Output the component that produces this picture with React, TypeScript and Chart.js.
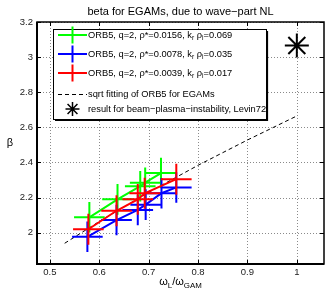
import React, { useEffect, useRef } from 'react';
import { Chart, registerables } from 'chart.js';

Chart.register(...registerables);

const FONT = '"Liberation Sans", Arial, Helvetica, sans-serif';

const xTicks = [0.5, 0.6, 0.7, 0.8, 0.9, 1];
const xTickLabels = ['0.5', '0.6', '0.7', '0.8', '0.9', '1'];
const yTicks = [2, 2.2, 2.4, 2.6, 2.8, 3, 3.2];
const yTickLabels = ['2', '2.2', '2.4', '2.6', '2.8', '3', '3.2'];

// ORB5, rho*=0.0156 (green)
const greenX = [0.58, 0.637, 0.683, 0.693, 0.725];
const greenY = [2.088, 2.19, 2.265, 2.285, 2.34];
const greenXErr = [0.031, 0.031, 0.031, 0.031, 0.031];
const greenYErr = [0.087, 0.087, 0.087, 0.087, 0.087];

// ORB5, rho*=0.0078 (blue)
const blueX = [0.576, 0.635, 0.678, 0.694, 0.726, 0.756];
const blueY = [1.977, 2.072, 2.13, 2.16, 2.225, 2.258];
const blueXErr = [0.031, 0.031, 0.031, 0.031, 0.031, 0.031];
const blueYErr = [0.087, 0.087, 0.087, 0.087, 0.087, 0.087];

// ORB5, rho*=0.0039 (red)
const redX = [0.578, 0.635, 0.678, 0.692, 0.756];
const redY = [2.02, 2.125, 2.19, 2.225, 2.305];
const redXErr = [0.031, 0.031, 0.031, 0.031, 0.031];
const redYErr = [0.088, 0.088, 0.088, 0.088, 0.088];

// sqrt fitting of ORB5 for EGAMs
const fitX = [0.53, 0.6, 0.7, 0.8, 0.9, 1.0];
const fitY = [1.94, 2.064, 2.23, 2.384, 2.528, 2.665];

// beam-plasma-instability result, Levin72
const levinX = [1.0];
const levinY = [3.066];

type Seg = [string, boolean];
const titleText: Seg[] = [['beta for EGAMs, due to wave\u2212part NL', false]];
const xLabel: Seg[] = [['\u03c9', false], ['L', true], ['/\u03c9', false], ['GAM', true]];
const yLabel = '\u03b2';
const legendGreen: Seg[] = [['ORB5, q=2, \u03c1*=0.0156, k', false], ['r', true], [' \u03c1', false], ['i', true], ['=0.069', false]];
const legendBlue: Seg[] = [['ORB5, q=2, \u03c1*=0.0078, k', false], ['r', true], [' \u03c1', false], ['i', true], ['=0.035', false]];
const legendRed: Seg[] = [['ORB5, q=2, \u03c1*=0.0039, k', false], ['r', true], [' \u03c1', false], ['i', true], ['=0.017', false]];
const legendFit: Seg[] = [['sqrt fitting of ORB5 for EGAMs', false]];
const legendLevin: Seg[] = [['result for beam\u2212plasma\u2212instability, Levin72', false]];

const GREEN = '#00ff00';
const BLUE = '#0000ff';
const RED = '#ff0000';

function pts(xs: number[], ys: number[]) {
  return xs.map((x, i) => ({ x, y: ys[i] }));
}

function drawRich(ctx: CanvasRenderingContext2D, segs: Seg[], x: number, y: number, size: number, align: 'left' | 'center') {
  let total = 0;
  for (const [t, sub] of segs) {
    ctx.font = `${sub ? size * 0.72 : size}px ${FONT}`;
    total += ctx.measureText(t).width;
  }
  let cx = align === 'center' ? x - total / 2 : x;
  ctx.textAlign = 'left';
  ctx.textBaseline = 'middle';
  for (const [t, sub] of segs) {
    ctx.font = `${sub ? size * 0.72 : size}px ${FONT}`;
    ctx.fillText(t, cx, sub ? y + size * 0.32 : y);
    cx += ctx.measureText(t).width;
  }
}

function drawStar(ctx: CanvasRenderingContext2D, x: number, y: number, r: number) {
  ctx.beginPath();
  for (let k = 0; k < 4; k++) {
    const a = (k * Math.PI) / 4;
    ctx.moveTo(x - r * Math.cos(a), y - r * Math.sin(a));
    ctx.lineTo(x + r * Math.cos(a), y + r * Math.sin(a));
  }
  ctx.stroke();
}

const framePlugin = {
  id: 'frame',
  beforeDatasetsDraw(chart: any) {
    const { ctx, chartArea: a } = chart;
    const xs = chart.scales.x;
    const ys = chart.scales.y;
    ctx.save();
    ctx.strokeStyle = '#8a8a8a';
    ctx.lineWidth = 1;
    ctx.setLineDash([1, 2]);
    for (const v of xTicks) {
      const p = Math.round(xs.getPixelForValue(v)) + 0.5;
      ctx.beginPath();
      ctx.moveTo(p, a.top);
      ctx.lineTo(p, a.bottom);
      ctx.stroke();
    }
    for (const v of yTicks) {
      const p = Math.round(ys.getPixelForValue(v)) + 0.5;
      ctx.beginPath();
      ctx.moveTo(a.left, p);
      ctx.lineTo(a.right, p);
      ctx.stroke();
    }
    ctx.restore();
  },
  afterDatasetDraw(chart: any, args: any) {
    const ds = chart.data.datasets[args.index];
    if (!ds.xErr) return;
    const ctx = chart.ctx;
    const xs = chart.scales.x;
    const ys = chart.scales.y;
    ctx.save();
    ctx.strokeStyle = ds.borderColor;
    ctx.lineWidth = 2;
    ds.data.forEach((p: any, i: number) => {
      const px = xs.getPixelForValue(p.x);
      const py = ys.getPixelForValue(p.y);
      ctx.beginPath();
      ctx.moveTo(xs.getPixelForValue(p.x - ds.xErr[i]), py);
      ctx.lineTo(xs.getPixelForValue(p.x + ds.xErr[i]), py);
      ctx.moveTo(px, ys.getPixelForValue(p.y - ds.yErr[i]));
      ctx.lineTo(px, ys.getPixelForValue(p.y + ds.yErr[i]));
      ctx.stroke();
    });
    ctx.restore();
  },
  afterDraw(chart: any) {
    const { ctx, chartArea: a } = chart;
    const xs = chart.scales.x;
    const ys = chart.scales.y;
    ctx.save();
    // box
    ctx.strokeStyle = '#000';
    ctx.lineWidth = 1.5;
    ctx.strokeRect(a.left, a.top, a.right - a.left, a.bottom - a.top);
    ctx.lineWidth = 2;
    ctx.beginPath();
    ctx.moveTo(a.left, a.top);
    ctx.lineTo(a.left, a.bottom);
    ctx.lineTo(a.right, a.bottom);
    ctx.stroke();
    // inside ticks
    ctx.lineWidth = 1;
    const tl = 4;
    for (const v of xTicks) {
      const p = Math.round(xs.getPixelForValue(v)) + 0.5;
      ctx.beginPath();
      ctx.moveTo(p, a.bottom);
      ctx.lineTo(p, a.bottom - tl);
      ctx.moveTo(p, a.top);
      ctx.lineTo(p, a.top + tl);
      ctx.stroke();
    }
    for (const v of yTicks) {
      const p = Math.round(ys.getPixelForValue(v)) + 0.5;
      ctx.beginPath();
      ctx.moveTo(a.left, p);
      ctx.lineTo(a.left + tl, p);
      ctx.moveTo(a.right, p);
      ctx.lineTo(a.right - tl, p);
      ctx.stroke();
    }
    // title and axis labels
    ctx.fillStyle = '#000';
    drawRich(ctx, titleText, (a.left + a.right) / 2, 12, 11, 'center');
    drawRich(ctx, xLabel, (a.left + a.right) / 2, 282, 11, 'center');
    ctx.font = `11px ${FONT}`;
    ctx.textAlign = 'center';
    ctx.textBaseline = 'middle';
    ctx.fillText(yLabel, 10, 143);

    // legend
    const L = 53, T = 29, R = 266, B = 119;
    ctx.fillStyle = '#fff';
    ctx.fillRect(L, T, R - L, B - T);
    ctx.strokeStyle = '#000';
    ctx.lineWidth = 1;
    ctx.strokeRect(L + 0.5, T + 0.5, R - L, B - T);
    ctx.lineWidth = 1.2;
    ctx.beginPath();
    ctx.moveTo(R + 1.5, T + 2);
    ctx.lineTo(R + 1.5, B + 1.5);
    ctx.lineTo(L + 2, B + 1.5);
    ctx.stroke();

    const rows = [35, 54, 73, 94, 109];
    const cols = [GREEN, BLUE, RED];
    const labels = [legendGreen, legendBlue, legendRed];
    for (let i = 0; i < 3; i++) {
      ctx.strokeStyle = cols[i];
      ctx.lineWidth = 2;
      ctx.setLineDash([]);
      ctx.beginPath();
      ctx.moveTo(58, rows[i]);
      ctx.lineTo(87, rows[i]);
      ctx.moveTo(72.5, rows[i] - 8.5);
      ctx.lineTo(72.5, rows[i] + 8.5);
      ctx.stroke();
      ctx.fillStyle = '#000';
      drawRich(ctx, labels[i], 88, rows[i], 9.3, 'left');
    }
    ctx.strokeStyle = '#000';
    ctx.lineWidth = 1;
    ctx.setLineDash([4, 3]);
    ctx.beginPath();
    ctx.moveTo(58, rows[3] + 0.5);
    ctx.lineTo(87, rows[3] + 0.5);
    ctx.stroke();
    ctx.setLineDash([]);
    drawRich(ctx, legendFit, 88, rows[3], 9.3, 'left');
    ctx.lineWidth = 1.5;
    drawStar(ctx, 72.5, rows[4], 7);
    drawRich(ctx, legendLevin, 88, rows[4], 9.3, 'left');
    ctx.restore();
  },
};

export default function App() {
  const ref = useRef<HTMLCanvasElement>(null);
  useEffect(() => {
    if (!ref.current) return;
    const chart = new Chart(ref.current, {
      type: 'scatter',
      data: {
        datasets: [
          {
            label: 'fit',
            data: pts(fitX, fitY),
            showLine: true,
            borderColor: '#000',
            borderWidth: 1,
            borderDash: [4, 3],
            pointRadius: 0,
            order: 4,
          } as any,
          {
            label: 'green',
            data: pts(greenX, greenY),
            showLine: true,
            borderColor: GREEN,
            borderWidth: 2,
            pointRadius: 0,
            xErr: greenXErr,
            yErr: greenYErr,
            order: 3,
          } as any,
          {
            label: 'blue',
            data: pts(blueX, blueY),
            showLine: true,
            borderColor: BLUE,
            borderWidth: 2,
            pointRadius: 0,
            xErr: blueXErr,
            yErr: blueYErr,
            order: 2,
          } as any,
          {
            label: 'red',
            data: pts(redX, redY),
            showLine: true,
            borderColor: RED,
            borderWidth: 2,
            pointRadius: 0,
            xErr: redXErr,
            yErr: redYErr,
            order: 1,
          } as any,
          {
            label: 'levin',
            data: pts(levinX, levinY),
            showLine: false,
            pointStyle: 'star',
            pointRadius: 12,
            borderWidth: 2,
            borderColor: '#000',
            backgroundColor: '#000',
            order: 0,
          } as any,
        ],
      },
      options: {
        animation: false,
        responsive: false,
        layout: { autoPadding: false, padding: { top: 22, right: 1, left: 0, bottom: 0 } },
        plugins: { legend: { display: false }, title: { display: false }, tooltip: { enabled: false } },
        scales: {
          x: {
            type: 'linear',
            min: 0.474,
            max: 1.055,
            afterBuildTicks: (s: any) => {
              s.ticks = xTicks.map((v) => ({ value: v }));
            },
            afterFit: (s: any) => {
              s.height = 25;
            },
            ticks: {
              autoSkip: false,
              maxRotation: 0,
              padding: 3,
              color: '#222',
              font: { size: 9.5, family: FONT },
              callback: (v: any) => xTickLabels[xTicks.indexOf(Number(v))] ?? '',
            },
            grid: { display: false, drawTicks: false },
            border: { display: false },
          },
          y: {
            type: 'linear',
            min: 1.822,
            max: 3.2,
            afterBuildTicks: (s: any) => {
              s.ticks = yTicks.map((v) => ({ value: v }));
            },
            afterFit: (s: any) => {
              s.width = 37;
            },
            ticks: {
              autoSkip: false,
              padding: 4,
              color: '#222',
              font: { size: 9.5, family: FONT },
              callback: (v: any) => yTickLabels[yTicks.indexOf(Number(v))] ?? '',
            },
            grid: { display: false, drawTicks: false },
            border: { display: false },
          },
        },
      },
      plugins: [framePlugin],
    } as any);
    return () => chart.destroy();
  }, []);
  return (
    <div style={{ position: 'fixed', left: 0, top: 0, width: 325, height: 289, background: '#fff' }}>
      <canvas ref={ref} width={325} height={289} />
    </div>
  );
}
